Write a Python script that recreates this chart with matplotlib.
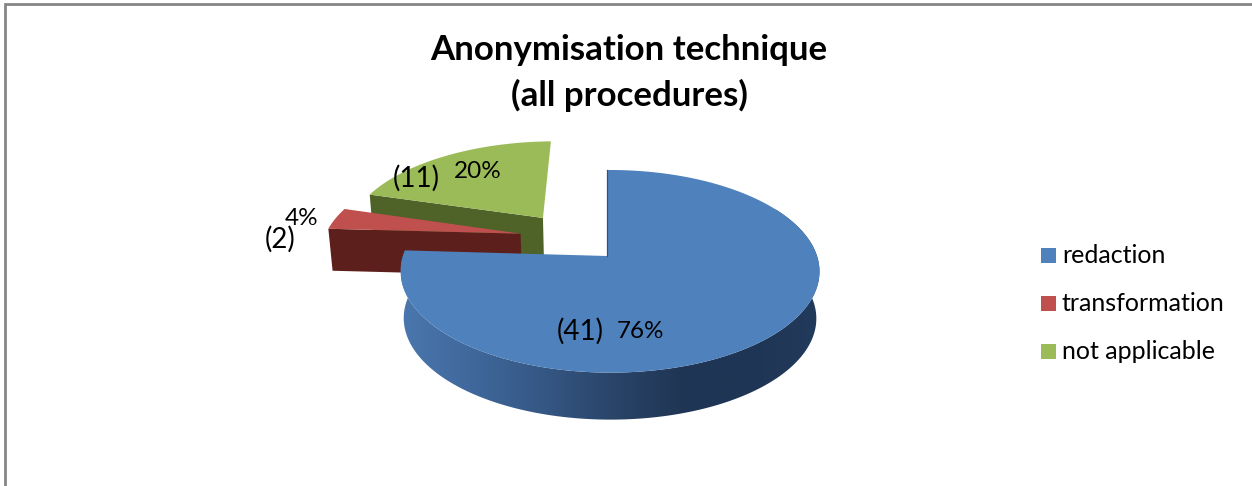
import numpy as np
import matplotlib
matplotlib.use("Agg")
import matplotlib.pyplot as plt
from matplotlib.colors import LinearSegmentedColormap
from matplotlib.patches import Polygon, Rectangle

title = "Anonymisation technique\n(all procedures)"
categories = ["redaction", "transformation", "not applicable"]
counts = [41, 2, 11]
percents = [76, 4, 20]

colors = ["#4f81bd", "#c0504d", "#9bbb59"]
side_colors = [None, "#5c1f1c", "#4f6228"]
explode = [(0.0, 0.0), (-0.435, 0.235), (-0.33, 0.41)]
depths = [47, 42, 43]
FONT = "Lato"

APEX_X, APEX_Y = 607, 256
A, B, K, M = 207, 99, 0.151, -0.0143
BASE_X_SCALE = 0.985

fig = plt.figure(figsize=(12.52, 4.86), dpi=100)
ax = fig.add_axes([0, 0, 1, 1])

# chart frame: only the top and left borders are visible in the reference
ax.plot([5, 5, 1252], [486, 4.5, 4.5], color="#868686", lw=2, solid_joinstyle="miter")


def project(u, v):
    w = 1 + K * v + M * u
    return APEX_X + A * u / w, APEX_Y - B * v / w


def base(x, y, depth):
    return APEX_X + 3 + (x - APEX_X - 3) * BASE_X_SCALE, y + depth


def sector_points(start, end, offset, n=240):
    t = np.radians(np.linspace(start, end, n))
    u = offset[0] + np.sin(t)
    v = offset[1] + np.cos(t)
    return project(u, v)


total = sum(counts)
edges = np.cumsum([0] + counts) / total * 360

# back to front: green, red, blue
for i in [2, 1]:
    x, y = sector_points(edges[i], edges[i + 1], explode[i])
    ax_, ay_ = project(*explode[i])
    bx0, by0 = base(x[0], y[0], depths[i])
    bx1, by1 = base(ax_, ay_, depths[i])
    ax.add_patch(Polygon([(x[0], y[0]), (ax_, ay_), (bx1, by1), (bx0, by0)],
                         closed=True, fc=side_colors[i], ec="none", zorder=2 + (2 - i)))
    top = np.column_stack([np.r_[ax_, x], np.r_[ay_, y]])
    ax.add_patch(Polygon(top, closed=True, fc=colors[i], ec="none", zorder=2.5 + (2 - i)))

# blue rim: a horizontal gradient clipped to the visible side wall
rim_cmap = LinearSegmentedColormap.from_list(
    "rim", ["#4a77ae", "#40689c", "#355885", "#2a4569", "#203655", "#1f3555", "#223a5c"])
x_t, y_t = sector_points(60, edges[1], explode[0], n=300)
x_b, y_b = base(x_t, y_t, depths[0])
rim_poly = Polygon(np.column_stack([np.r_[x_t, x_b[::-1]], np.r_[y_t, y_b[::-1]]]),
                   closed=True, fc="none", ec="none")
ax.add_patch(rim_poly)
grad = ax.imshow(np.linspace(0, 1, 256)[None, :], cmap=rim_cmap, aspect="auto",
                 extent=[x_t.min(), x_t.max(), y_b.max(), y_t.min()], zorder=6)
grad.set_clip_path(rim_poly)

x, y = sector_points(edges[0], edges[1], explode[0], n=500)
ax0, ay0 = project(*explode[0])
ax.add_patch(Polygon(np.column_stack([np.r_[ax0, x], np.r_[ay0, y]]), closed=True,
                     fc=colors[0], ec="none", zorder=7))
ax.plot([ax0, x[0]], [ay0, y[0]], color="#2f5280", lw=0.9, zorder=7.5)

# data labels
count_pos = [(580, 331), (280, 239), (416, 178)]
pct_pos = [(640, 331), (302, 218), (478, 171)]
for n, p, cp, pp in zip(counts, percents, count_pos, pct_pos):
    ax.text(*cp, f"({n})", ha="center", va="center", fontsize=20, family=FONT, color="black", zorder=9)
    ax.text(*pp, f"{p}%", ha="center", va="center", fontsize=17.5, family=FONT, color="black", zorder=9)

ax.text(629, 73, title, ha="center", va="center", fontsize=25.1, family=FONT,
        fontweight="bold", linespacing=1.46, color="black")

# legend
legend_y = [256, 304, 352]
for name, c, ly in zip(categories, colors, legend_y):
    ax.add_patch(Rectangle((1041, ly - 8), 15, 15, fc=c, ec="none"))
    ax.text(1062, ly - 0.5, name, ha="left", va="center", fontsize=18, family=FONT, color="black")

ax.set_xlim(0, 1252)
ax.set_ylim(486, 0)
ax.axis("off")

fig.savefig("out.png", dpi=100)
